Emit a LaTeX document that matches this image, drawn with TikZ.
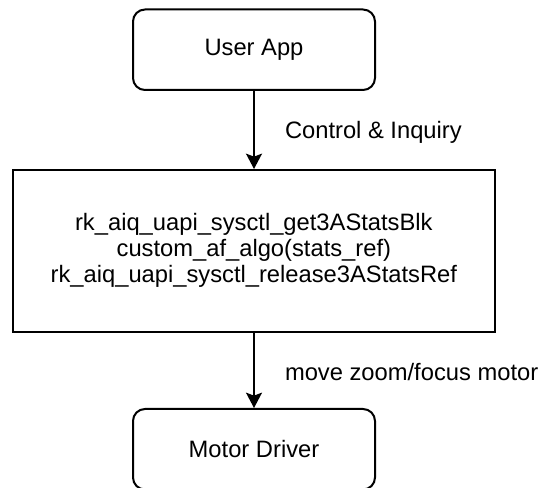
\documentclass[tikz,border=0pt]{standalone}
\usepackage{fontspec}
\setmainfont{Liberation Sans}
\usetikzlibrary{arrows.meta}

\newlength{\du}
\setlength{\du}{0.75pt}

\tikzset{
  flowbox/.style={draw=dialinecolor, fill=white, line width=2\du,
    minimum width=242\du, minimum height=80.5\du, rounded corners=12\du,
    inner sep=0pt, text=dialinecolor, font=\fontsize{17.8}{21}\selectfont},
  corebox/.style={draw=dialinecolor, fill=white, line width=2\du,
    minimum width=482.3\du, minimum height=161.7\du, align=center,
    inner sep=0pt, text=dialinecolor, font=\fontsize{17.8}{19.5}\selectfont},
  flowline/.style={draw=dialinecolor, line width=2\du,
    -{Stealth[length=11.5pt,width=12pt,inset=2.25pt]}},
  flowlabel/.style={anchor=west, inner sep=0pt, text=dialinecolor,
    font=\fontsize{17.8}{21}\selectfont}
}

\begin{document}
\begin{tikzpicture}
\pgftransformxscale{1.000000}
\pgftransformyscale{-1.000000}
\definecolor{dialinecolor}{rgb}{0.000000, 0.000000, 0.000000}
\useasboundingbox (0\du,0\du) rectangle (543\du,488\du);
% setfont left to latex
\node[flowbox] (userapp) at (254.000000\du,49.750000\du){User App};
\node[corebox] (statsblk) at (253.850000\du,250.850000\du){rk\_aiq\_uapi\_sysctl\_get3AStatsBlk\\custom\_af\_algo(stats\_ref)\\rk\_aiq\_uapi\_sysctl\_release3AStatsRef};
\node[flowbox] (motordrv) at (254.000000\du,449.250000\du){Motor Driver};
% was here!!!
\draw[flowline] (userapp.south) -- (userapp.south |- statsblk.north)
  node[flowlabel, pos=0.5, xshift=30\du, yshift=-2\du] (ctrllabel){Control \& Inquiry};
\draw[flowline] (motordrv.north |- statsblk.south) -- (motordrv.north)
  node[flowlabel, pos=0.5, xshift=30\du, yshift=-2\du] (movelabel){move zoom/focus motor};
\end{tikzpicture}
\end{document}
